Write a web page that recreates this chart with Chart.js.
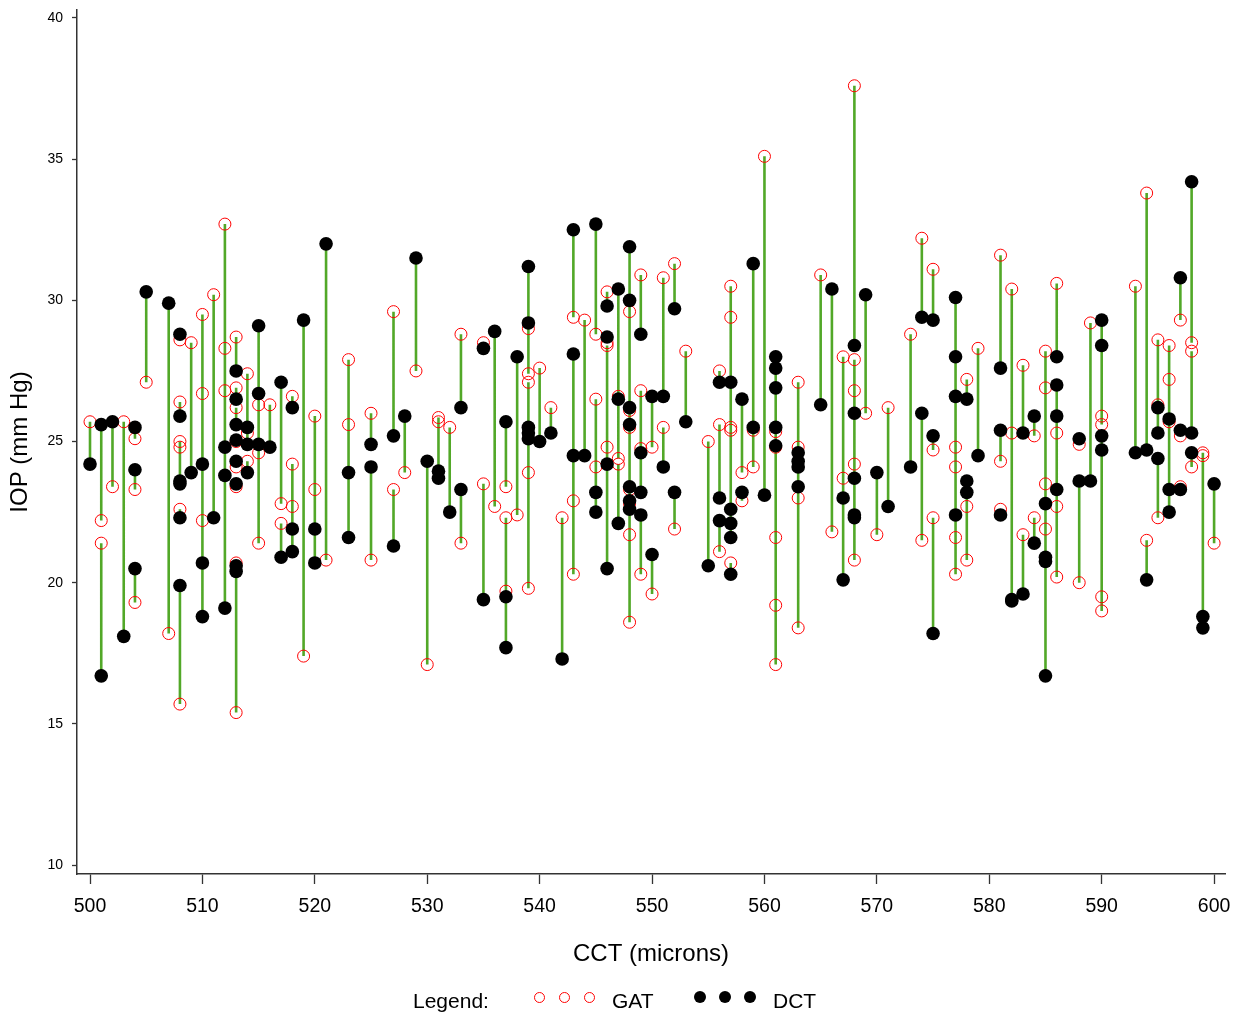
<!DOCTYPE html>
<html>
<head>
<meta charset="utf-8">
<script src="https://cdn.jsdelivr.net/npm/chart.js@4.4.1/dist/chart.umd.min.js"></script>
<style>
html,body{margin:0;padding:0;background:#fff;}
#wrap{position:relative;width:1239px;height:1015px;overflow:hidden;}
#legend{position:absolute;left:0;top:986px;width:1239px;height:30px;font-family:"Liberation Sans",Arial,sans-serif;font-size:21px;color:#000;}
#legend span.t{position:absolute;top:0;line-height:30px;}
#legend i{position:absolute;display:block;box-sizing:border-box;border-radius:50%;}
#legend i.g{width:11px;height:11px;border:1px solid #ff0000;top:6px;}
#legend i.d{width:12px;height:12px;background:#000;top:5px;}
</style>
</head>
<body>
<div id="wrap">
<canvas id="c" width="1239" height="1015"></canvas>
<div id="legend">
  <span class="t" style="left:413px">Legend:</span>
  <i class="g" style="left:534px"></i><i class="g" style="left:559px"></i><i class="g" style="left:584px"></i>
  <span class="t" style="left:612px">GAT</span>
  <i class="d" style="left:694px"></i><i class="d" style="left:719px"></i><i class="d" style="left:744px"></i>
  <span class="t" style="left:773px">DCT</span>
</div>
</div>
<script>
// CCT (microns) of each eye, with its GAT and DCT IOP (mm Hg)
const cct = [
500,501,501,502,503,504,504,504,505,507,
508,508,508,508,508,508,509,510,510,510,511,512,512,512,
513,513,513,513,513,513,513,513,514,514,514,515,515,515,516,
517,517,518,518,518,519,520,520,521,523,523,525,525,527,527,528,529,530,531,531,532,533,533,
535,535,536,537,537,537,538,539,539,539,539,539,540,541,542,543,543,543,544,
545,545,545,546,546,546,546,547,547,547,548,548,548,548,548,548,548,
549,549,549,549,550,550,551,551,552,552,553,555,556,556,556,
557,557,557,557,557,558,558,559,559,560,561,561,561,561,561,563,563,563,563,
565,566,567,567,568,568,568,568,568,569,570,571,573,574,574,575,575,575,
577,577,577,577,578,578,578,579,581,581,581,582,582,583,583,584,584,
585,585,585,585,586,586,586,586,588,588,589,590,590,590,590,593,594,594,
595,595,595,596,596,596,597,597,597,598,598,598,599,599,600
];
const gat = [
25.7,22.2,21.4,23.4,25.7,25.1,23.3,19.3,27.1,18.2,
28.6,26.4,25.0,24.8,22.6,15.7,28.5,29.5,26.7,22.2,30.2,32.7,28.3,26.8,
28.7,26.9,26.2,25.0,24.1,23.4,20.7,15.4,27.4,25.3,24.3,26.3,24.6,21.4,26.3,
22.8,22.1,26.6,24.2,22.7,17.4,25.9,23.3,20.8,27.9,25.6,26.0,20.8,29.6,23.3,23.9,27.5,17.1,25.85,25.7,25.5,28.8,21.4,
28.5,23.5,22.7,23.4,22.3,19.7,22.4,29.0,27.4,27.1,23.9,19.8,27.6,26.2,22.3,29.4,22.9,20.3,29.3,
28.8,26.5,24.1,30.3,28.5,28.4,24.8,26.6,24.4,24.2,29.6,26.1,25.5,23.3,22.8,21.7,18.6,
30.9,26.8,24.75,20.3,24.8,19.6,30.8,25.5,31.3,21.9,28.2,25.0,27.5,25.6,21.1,
30.5,29.4,25.5,25.4,20.7,23.9,22.9,24.1,25.4,35.1,25.35,21.6,19.2,17.1,24.8,27.1,24.8,23.0,18.4,
30.9,21.8,28.0,23.7,37.6,27.9,26.8,24.2,20.8,26.0,21.7,26.2,28.8,32.2,21.5,31.1,24.7,22.3,
24.8,24.1,21.6,20.3,27.2,22.7,20.8,28.3,31.6,24.3,22.6,30.4,25.3,27.7,21.7,25.2,22.3,
28.2,26.9,23.5,21.9,30.6,25.3,22.7,20.2,24.9,20.0,29.2,25.9,25.6,19.5,19.0,30.5,33.8,21.5,
28.6,26.3,22.3,28.4,27.2,25.7,29.3,25.2,23.4,28.5,28.2,24.1,24.6,24.5,21.4
];
const dct = [
24.2,25.6,16.7,25.7,18.1,25.5,24.0,20.5,30.3,29.9,
28.8,25.9,23.6,23.5,22.3,19.9,23.9,24.2,20.7,18.8,22.3,24.8,23.8,19.1,
27.5,26.5,25.6,25.05,24.3,23.5,20.6,20.4,25.5,24.9,23.9,29.1,26.7,24.9,24.8,
27.1,20.9,26.2,21.9,21.1,29.3,21.9,20.7,32.0,23.9,21.6,24.9,24.1,25.2,21.3,25.9,31.5,24.3,23.95,23.7,22.5,26.2,23.3,
28.3,19.4,28.9,25.7,19.5,17.7,28.0,31.2,29.2,25.5,25.1,25.3,25.0,25.3,17.3,32.5,28.1,24.5,24.5,
32.7,23.2,22.5,29.8,28.7,24.2,20.5,30.4,26.5,22.1,31.9,30.0,26.2,25.6,23.4,22.9,22.6,
28.8,23.2,24.6,22.4,26.6,21.0,26.6,24.1,29.7,23.2,25.7,20.6,27.1,23.0,22.2,
27.1,22.6,22.1,21.6,20.3,26.5,23.2,31.3,25.5,23.1,28.0,27.6,26.9,25.5,24.85,24.6,24.3,24.1,23.4,
26.3,30.4,23.0,20.1,28.4,26.0,23.7,22.4,22.3,30.2,23.9,22.7,24.1,29.4,26.0,29.3,25.2,18.2,
30.1,28.0,26.6,22.4,26.5,23.6,23.2,24.5,27.6,25.4,22.4,19.4,19.35,25.3,19.6,25.9,21.4,
22.8,20.9,20.75,16.7,28.0,27.0,25.9,23.3,25.1,23.6,23.6,29.3,28.4,25.2,24.7,24.6,24.7,20.1,
26.2,25.3,24.4,25.8,23.3,22.5,30.8,25.4,23.3,34.2,25.3,24.6,18.8,18.4,23.5
];
const xTicks = [500,510,520,530,540,550,560,570,580,590,600];
const yTicks = [10,15,20,25,30,35,40];

const gatPts = cct.map((c,i)=>({x:c,y:gat[i]}));
const dctPts = cct.map((c,i)=>({x:c,y:dct[i]}));
const linkPts = [];
cct.forEach((c,i)=>{ linkPts.push({x:c,y:gat[i]},{x:c,y:dct[i]},{x:c,y:null}); });

const FONT = '"Liberation Sans", Arial, sans-serif';
const AX = '#333333';

new Chart(document.getElementById('c'), {
  type: 'scatter',
  data: {
    datasets: [
      {label:'DCT', data:dctPts, order:1, pointRadius:6.8, pointHoverRadius:6.8,
       pointBackgroundColor:'#000', pointBorderColor:'#000', pointBorderWidth:0},
      {label:'GAT', data:gatPts, order:2, pointRadius:6, pointHoverRadius:6,
       pointBackgroundColor:'rgba(0,0,0,0)', pointBorderColor:'#ff0000', pointBorderWidth:1},
      {label:'link', data:linkPts, order:3, showLine:true, spanGaps:false, pointRadius:0,
       borderColor:'#52a828', borderWidth:2.6}
    ]
  },
  options: {
    responsive:false, animation:false, events:[],
    layout:{autoPadding:false, padding:{top:10,right:14,left:0,bottom:0}},
    plugins:{legend:{display:false}, tooltip:{enabled:false}},
    scales:{
      x:{type:'linear', min:498.843, max:600.97,
        afterFit:(s)=>{s.height=141; s.paddingLeft=0; s.paddingRight=0; s.paddingTop=0; s.paddingBottom=0;},
        afterBuildTicks:(s)=>{s.ticks = xTicks.map(v=>({value:v}));},
        ticks:{font:{family:FONT,size:19.5}, color:'#000', padding:11, maxRotation:0, autoSkip:false},
        grid:{drawOnChartArea:false, drawTicks:true, tickLength:10, tickColor:AX, tickWidth:1.3},
        border:{display:true, color:AX, width:1.5},
        title:{display:true, text:'CCT (microns)', color:'#000', font:{family:FONT,size:24}, padding:{top:0,bottom:46}}
      },
      y:{type:'linear', min:9.683, max:40.283,
        afterFit:(s)=>{s.width=77; s.paddingLeft=0; s.paddingRight=0; s.paddingTop=0; s.paddingBottom=0;},
        afterBuildTicks:(s)=>{s.ticks = yTicks.map(v=>({value:v}));},
        ticks:{font:{family:FONT,size:14}, color:'#000', padding:9, autoSkip:false},
        grid:{drawOnChartArea:false, drawTicks:true, tickLength:5, tickColor:AX, tickWidth:1.3},
        border:{display:true, color:AX, width:1.5},
        title:{display:true, text:'IOP (mm Hg)', color:'#000', font:{family:FONT,size:24}, padding:{top:5.6,bottom:0}}
      }
    }
  }
});
</script>
</body>
</html>
